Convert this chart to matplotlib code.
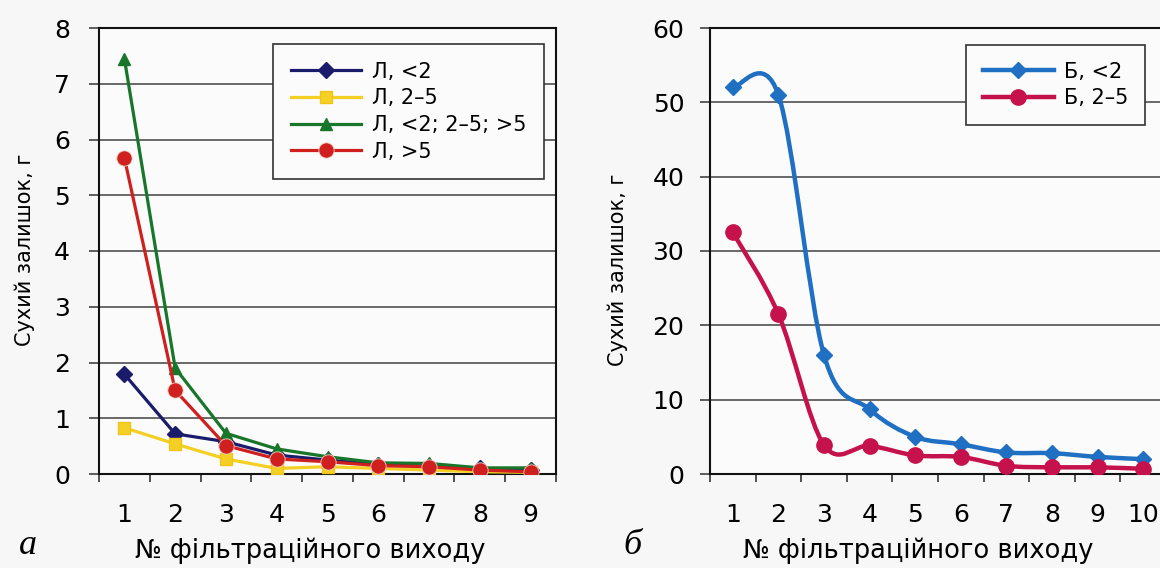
import numpy as np
import matplotlib
matplotlib.use("Agg")
import matplotlib.pyplot as plt
from matplotlib.path import Path
from matplotlib.patches import PathPatch
from matplotlib.lines import Line2D

plt.rcParams['font.family'] = ['DejaVu Sans']

# --- data: left panel (а)
outlets_a = [1, 2, 3, 4, 5, 6, 7, 8, 9]
l_lt2 = [1.79, 0.72, 0.58, 0.34, 0.25, 0.17, 0.14, 0.10, 0.07]
l_2_5 = [0.83, 0.54, 0.27, 0.10, 0.13, 0.10, 0.07, 0.04, 0.03]
l_all = [7.45, 1.90, 0.73, 0.45, 0.31, 0.20, 0.19, 0.11, 0.11]
l_gt5 = [5.67, 1.50, 0.51, 0.27, 0.22, 0.15, 0.13, 0.07, 0.04]

# --- data: right panel (б)
outlets_b = [1, 2, 3, 4, 5, 6, 7, 8, 9, 10]
b_lt2 = [52.0, 51.0, 16.0, 8.7, 5.0, 4.0, 2.9, 2.8, 2.3, 2.0]
b_2_5 = [32.5, 21.5, 3.9, 3.8, 2.5, 2.3, 1.1, 0.9, 0.9, 0.7]

GRID = '#505050'
BG = '#f7f7f7'


def smooth_path(xs, ys):
    # excel-like smoothed line: cubic bezier, catmull-rom tangents
    x = np.asarray(xs, float)
    y = np.asarray(ys, float)
    n = len(x)
    verts = [(x[0], y[0])]
    codes = [Path.MOVETO]
    for i in range(n - 1):
        i0 = max(i - 1, 0)
        i3 = min(i + 2, n - 1)
        c1 = (x[i] + (x[i + 1] - x[i0]) / 6, y[i] + (y[i + 1] - y[i0]) / 6)
        c2 = (x[i + 1] - (x[i3] - x[i]) / 6, y[i + 1] - (y[i3] - y[i]) / 6)
        verts += [c1, c2, (x[i + 1], y[i + 1])]
        codes += [Path.CURVE4] * 3
    return Path(verts, codes)


def style_axes(ax, ncat, ymax, ystep, ypad):
    ax.set_facecolor('#fbfbfb')
    ax.set_xlim(0.5, ncat + 0.5)
    ax.set_ylim(0, ymax)
    ax.set_xticks(range(1, ncat + 1))
    ax.set_xticks(np.arange(0.5, ncat + 1, 1), minor=True)
    ax.set_yticks(np.arange(0, ymax + ystep / 2, ystep))
    ax.tick_params(axis='x', which='major', length=0, pad=21, labelsize=18)
    ax.tick_params(axis='x', which='minor', length=6, width=1.1, color='#222',
                   direction='out')
    ax.tick_params(axis='y', length=7.5, width=1.1, color='#333', pad=ypad,
                   labelsize=18)
    ax.grid(axis='y', color=GRID, lw=1.2)
    ax.set_axisbelow(True)
    for s in ax.spines.values():
        s.set_color('#111')
        s.set_linewidth(1.5)


def frame_legend(leg):
    fr = leg.get_frame()
    fr.set_edgecolor('#333')
    fr.set_linewidth(1.2)
    fr.set_facecolor('#fbfbfb')
    fr.set_alpha(1)


fig = plt.figure(figsize=(11.6, 5.68), dpi=100, facecolor=BG)

# ---------- panel а
ax1 = fig.add_axes([99 / 1160, 94 / 568, 457 / 1160, 446 / 568])
style_axes(ax1, 9, 8, 1, 13.5)
ax1.plot(outlets_a, l_lt2, color='#1b1b6b', lw=2.3, marker='D', ms=8,
         mec='#1b1b6b', label='Л, <2', zorder=3)
ax1.plot(outlets_a, l_2_5, color='#f4d024', lw=2.3, marker='s', ms=8,
         mec='#f0c419', label='Л, 2–5', zorder=3)
ax1.plot(outlets_a, l_all, color='#18762a', lw=2.3, marker='^', ms=9,
         mec='#18762a', label='Л, <2; 2–5; >5', zorder=4)
ax1.plot(outlets_a, l_gt5, color='#cf1f1f', lw=2.3, marker='o', ms=11,
         mec='#f0d0c0', mew=0.6, label='Л, >5', zorder=5)
leg1 = ax1.legend(loc='upper right', bbox_to_anchor=(0.974, 0.964),
                  fontsize=15, frameon=True, fancybox=False, numpoints=1,
                  handlelength=3.4, handletextpad=0.5, labelspacing=0.32,
                  borderpad=0.85, borderaxespad=0)
frame_legend(leg1)

# ---------- panel б
ax2 = fig.add_axes([710 / 1160, 94 / 568, 456 / 1160, 446 / 568])
style_axes(ax2, 10, 60, 10, 11)
ax2.spines['right'].set_visible(False)
for xs, ys, col, mk, ms in [(outlets_b, b_lt2, '#1f6fc2', 'D', 8.5),
                            (outlets_b, b_2_5, '#c5124c', 'o', 11)]:
    ax2.add_patch(PathPatch(smooth_path(xs, ys), fill=False, edgecolor=col,
                            lw=3.2, capstyle='round', zorder=3))
    ax2.plot(xs, ys, ls='none', marker=mk, ms=ms, color=col, mec=col,
             zorder=4)
handles = [Line2D([], [], color='#1f6fc2', lw=3.2, marker='D', ms=8.5),
           Line2D([], [], color='#c5124c', lw=3.2, marker='o', ms=11)]
leg2 = ax2.legend(handles, ['Б, <2', 'Б, 2–5'], loc='upper right',
                  bbox_to_anchor=(0.954, 0.962), fontsize=15, frameon=True,
                  fancybox=False, numpoints=1, handlelength=3.4,
                  handletextpad=0.5, labelspacing=0.3, borderpad=0.8,
                  borderaxespad=0)
frame_legend(leg2)

# ---------- labels
fig.text(25 / 1160, 1 - 250 / 568, 'Сухий залишок, г', rotation=90,
         ha='center', va='center', fontsize=15)
fig.text(618 / 1160, 1 - 270 / 568, 'Сухий залишок, г', rotation=90,
         ha='center', va='center', fontsize=15)
fig.text(310 / 1160, 1 - 551 / 568, '№ фільтраційного виходу',
         ha='center', va='center', fontsize=18.5)
fig.text(918 / 1160, 1 - 551 / 568, '№ фільтраційного виходу',
         ha='center', va='center', fontsize=18.5)
fig.text(28 / 1160, 1 - 546 / 568, 'а', ha='center', va='center',
         fontsize=26, style='italic', family='Liberation Serif')
fig.text(632 / 1160, 1 - 546 / 568, 'б', ha='center', va='center',
         fontsize=26, style='italic', family='Liberation Serif')

fig.savefig('out.png', dpi=100, facecolor=BG)
